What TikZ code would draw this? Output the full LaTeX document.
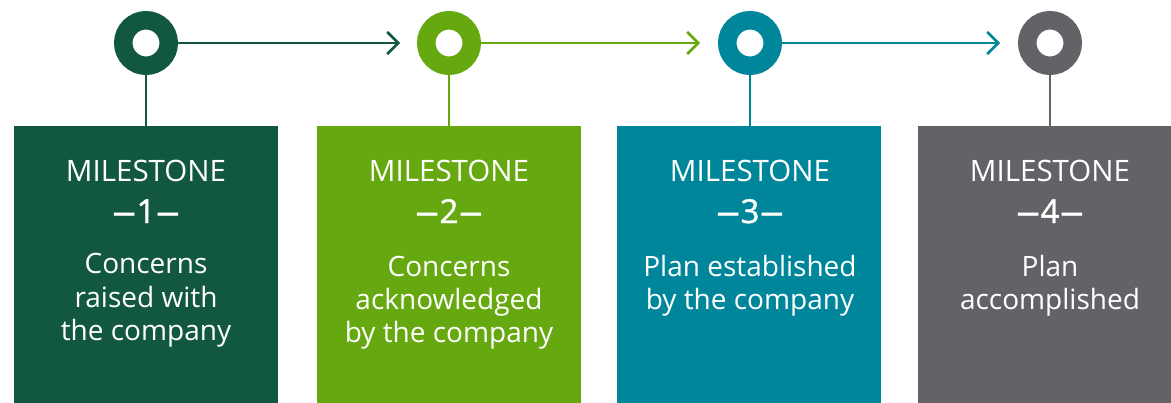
\documentclass[tikz,border=0pt]{standalone}
\usepackage{fontspec}
\setmainfont{Open Sans}
\newfontfamily\numfont[FakeBold=1.2]{Open Sans}
\newfontfamily\dashfont[FakeBold=1.2,FakeStretch=1.45]{Open Sans}
\usetikzlibrary{arrows.meta}
\definecolor{cone}{RGB}{18,87,64}
\definecolor{ctwo}{RGB}{102,168,15}
\definecolor{cthree}{RGB}{0,134,154}
\definecolor{cfour}{RGB}{99,98,103}
\newcommand{\msnum}[1]{{\dashfont –}\kern0.5pt#1\kern0.5pt{\dashfont –}}
\tikzset{
  box/.style={rectangle, fill=#1, minimum width=264pt, minimum height=290pt, anchor=north west, inner sep=0pt, outer sep=0pt},
  ring/.style={circle, draw=#1, line width=18.5pt, fill=white, minimum size=45.5pt, inner sep=0pt},
  stem/.style={draw=#1, line width=2pt},
  link/.style={draw=#1, line width=2.5pt, -{Straight Barb[length=11pt,width=22pt,line width=2.5pt]}},
  title/.style={text=white, anchor=base, inner sep=0pt, font=\fontsize{29.5}{32}\selectfont},
  numb/.style={text=white, anchor=base, inner sep=0pt, font=\numfont\fontsize{33}{36}\selectfont},
  desc/.style={text=white, anchor=base, inner sep=0pt, font=\fontsize{28}{33}\selectfont},
}
\begin{document}
\begin{tikzpicture}[x=1pt,y=-1pt]
\useasboundingbox (0,0) rectangle (1171,402);
\clip (0,0) rectangle (1171,402);
% boxes
\node[box=cone]   (b1) at (14,126)  {};
\node[box=ctwo]   (b2) at (317,126) {};
\node[box=cthree] (b3) at (617,126) {};
\node[box=cfour]  (b4) at (918,126) {};
% rings
\node[ring=cone]   (r1) at (146,43)  {};
\node[ring=ctwo]   (r2) at (449,43)  {};
\node[ring=cthree] (r3) at (750,43)  {};
\node[ring=cfour]  (r4) at (1050,43) {};
% stems
\draw[stem=cone]   (r1.south) -- (r1.south |- b1.north);
\draw[stem=ctwo]   (r2.south) -- (r2.south |- b2.north);
\draw[stem=cthree] (r3.south) -- (r3.south |- b3.north);
\draw[stem=cfour]  (r4.south) -- (r4.south |- b4.north);
% arrows
\coordinate (t1) at (400,43);
\coordinate (t2) at (700,43);
\coordinate (t3) at (1000,43);
\draw[link=cone]   (r1.east) -- (t1);
\draw[link=ctwo]   (r2.east) -- (t2);
\draw[link=cthree] (r3.east) -- (t3);
% titles
\node[title] (m1) at (146,181) {MILESTONE};
\node[title] (m2) at (449,181) {MILESTONE};
\node[title] (m3) at (750,181) {MILESTONE};
\node[title] (m4) at (1050,181) {MILESTONE};
\node[numb] (n1) at (146,223) {\msnum{1}};
\node[numb] (n2) at (449,223) {\msnum{2}};
\node[numb] (n3) at (750,223) {\msnum{3}};
\node[numb] (n4) at (1050,223) {\msnum{4}};
% descriptions
\node[desc] (d1a) at (146,273) {Concerns};
\node[desc] (d1b) at (146,307) {raised with};
\node[desc] (d1c) at (146,340) {the company};
\node[desc] (d2a) at (449,276) {Concerns};
\node[desc] (d2b) at (449,309) {acknowledged};
\node[desc] (d2c) at (449,342) {by the company};
\node[desc] (d3a) at (750,276) {Plan established};
\node[desc] (d3b) at (750,309) {by the company};
\node[desc] (d4a) at (1050,276) {Plan};
\node[desc] (d4b) at (1050,309) {accomplished};
\end{tikzpicture}
\end{document}
